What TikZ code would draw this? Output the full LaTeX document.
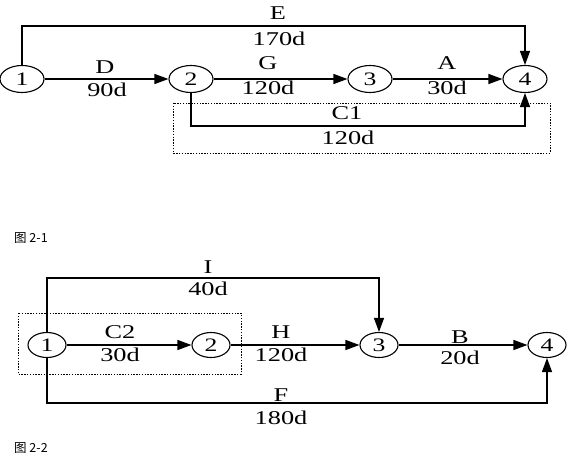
\documentclass[tikz,border=0pt]{standalone}
\usepackage{graphicx}
\usepackage{fontspec}
\setmainfont{Liberation Serif}
\newfontfamily\cjk{Noto Sans CJK SC}
\usetikzlibrary{arrows.meta,shapes.geometric,calc}
\newcommand\lbl[1]{\scalebox{1.35}[1]{#1}}
\tikzset{
  evt/.style={draw, ellipse, line width=1.1pt, inner sep=0pt, minimum width=44pt, minimum height=27pt, font=\fontsize{19}{20}\selectfont},
  evtb/.style={evt, minimum width=38pt, minimum height=25pt},
  arr/.style={line width=1.3pt, -{Triangle[length=14pt,width=10pt]}},
  lab/.style={inner sep=0pt, font=\fontsize{19.5}{20}\selectfont},
  dotbox/.style={line width=0.9pt, dash pattern=on 1.4pt off 1.4pt},
  figcap/.style={inner sep=0pt, anchor=west, font=\cjk\fontsize{12.5}{13}\selectfont}
}
\begin{document}
\begin{tikzpicture}[x=1pt,y=-1pt]
\useasboundingbox (0,0) rectangle (576,460);
% ---------- Figure 2-1 ----------
\draw[dotbox] (173,103) rectangle (550,153);
\node[evt] (a1) at (22,79) {\lbl{1}};
\node[evt] (a2) at (191,79) {\lbl{2}};
\node[evt] (a3) at (370,79) {\lbl{3}};
\node[evt] (a4) at (525,79) {\lbl{4}};
\coordinate (eY) at (0,26);
\coordinate (cY) at (0,126);
\draw[arr] (a1) -- (a2);
\draw[arr] (a2) -- (a3);
\draw[arr] (a3) -- (a4);
\draw[arr] (a1.north) -- (a1.north |- eY) -| (a4.north);
\draw[arr] (a2.south) -- (a2.south |- cY) -| (a4.south);
\node[lab] (lE) at (278,13) {\lbl{E}};
\node[lab] (lE2) at (279,39) {\lbl{170d}};
\node[lab] (lD) at (105,67) {\lbl{D}};
\node[lab] (lD2) at (107,90) {\lbl{90d}};
\node[lab] (lG) at (268,63) {\lbl{G}};
\node[lab] (lG2) at (268,88) {\lbl{120d}};
\node[lab] (lA) at (447,63) {\lbl{A}};
\node[lab] (lA2) at (447,88) {\lbl{30d}};
\node[lab] (lC) at (347,113) {\lbl{C1}};
\node[lab] (lC2) at (348,138) {\lbl{120d}};
\node[figcap] (cap1) at (14,238) {图 2-1};
% ---------- Figure 2-2 ----------
\draw[dotbox] (18,313) rectangle (241,374);
\node[evtb] (b1) at (47,345) {\lbl{1}};
\node[evtb] (b2) at (211,345) {\lbl{2}};
\node[evtb] (b3) at (379,345) {\lbl{3}};
\node[evtb] (b4) at (547,345) {\lbl{4}};
\coordinate (iY) at (0,278);
\coordinate (fY) at (0,403);
\draw[arr] (b1) -- (b2);
\draw[arr] (b2) -- (b3);
\draw[arr] (b3) -- (b4);
\draw[arr] (b1.north) -- (b1.north |- iY) -| (b3.north);
\draw[arr] (b1.south) -- (b1.south |- fY) -| (b4.south);
\node[lab] (lI) at (208,267) {\lbl{I}};
\node[lab] (lI2) at (208,289) {\lbl{40d}};
\node[lab] (lC3) at (120,332) {\lbl{C2}};
\node[lab] (lC4) at (120,355) {\lbl{30d}};
\node[lab] (lH) at (281,332) {\lbl{H}};
\node[lab] (lH2) at (281,355) {\lbl{120d}};
\node[lab] (lB) at (460,337) {\lbl{B}};
\node[lab] (lB2) at (460,358) {\lbl{20d}};
\node[lab] (lF) at (281,395) {\lbl{F}};
\node[lab] (lF2) at (281,418) {\lbl{180d}};
\node[figcap] (cap2) at (14,448) {图 2-2};
\end{tikzpicture}
\end{document}
